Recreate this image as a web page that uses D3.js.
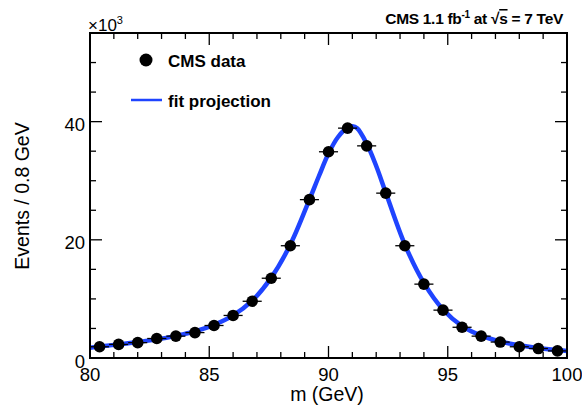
<!DOCTYPE html>
<html>
<head>
<meta charset="utf-8">
<script src="https://cdn.jsdelivr.net/npm/d3@7"></script>
<style>
  body { margin: 0; background: #fff; }
  svg { display: block; }
  text { font-family: "Liberation Sans", Arial, Helvetica, sans-serif; fill: #000; }
</style>
</head>
<body>
<svg id="chart" width="582" height="405"></svg>
<script>
// Z -> mumu invariant mass: binned data (0.8 GeV bins) and fit projection, in units of 10^3 events
const binCenters = [80.4, 81.2, 82.0, 82.8, 83.6, 84.4, 85.2, 86.0, 86.8, 87.6, 88.4, 89.2, 90.0,
                    90.8, 91.6, 92.4, 93.2, 94.0, 94.8, 95.6, 96.4, 97.2, 98.0, 98.8, 99.6];
const dataCounts = [1.9, 2.3, 2.6, 3.3, 3.7, 4.3, 5.5, 7.2, 9.6, 13.5, 19.0, 26.8, 34.9,
                    38.9, 35.9, 27.9, 19.0, 12.5, 8.1, 5.2, 3.7, 2.7, 1.9, 1.6, 1.2];
const binWidth = 0.8;

const fitMass = [80.0, 80.4, 81.2, 82.0, 82.8, 83.6, 84.4, 85.2, 86.0, 86.8, 87.6, 88.4, 89.2,
                 89.6, 90.0, 90.4, 90.8, 91.0, 91.2, 91.6, 92.0, 92.4, 93.2, 94.0, 94.8, 95.6,
                 96.4, 97.2, 98.0, 98.8, 99.6, 100.0];
const fitValues = [1.75, 1.95, 2.3, 2.7, 3.15, 3.75, 4.5, 5.6, 7.2, 9.7, 13.6, 19.2, 26.8,
                   30.8, 34.6, 37.4, 39.0, 39.2, 38.9, 36.3, 32.5, 28.0, 19.2, 12.7, 8.2, 5.4,
                   3.8, 2.8, 2.15, 1.7, 1.35, 1.2];

const xMajorTicks = [80, 85, 90, 95, 100];
const yMajorTicks = [0, 20, 40];

const svg = d3.select("#chart");
const frame = { left: 90, right: 567, top: 33, bottom: 358 };

const x = d3.scaleLinear().domain([80, 100]).range([frame.left, frame.right]);
const y = d3.scaleLinear().domain([0, 55]).range([frame.bottom, frame.top]);

const majorLen = 12, minorLen = 6;

// inward-pointing ticks on all four sides
const axisG = svg.append("g").attr("stroke", "#000").attr("stroke-width", 1.3);
d3.range(80, 100.001, 1).forEach(v => {
  const len = (v % 5 === 0) ? majorLen : minorLen;
  axisG.append("line").attr("x1", x(v)).attr("x2", x(v))
    .attr("y1", frame.bottom).attr("y2", frame.bottom - len);
  axisG.append("line").attr("x1", x(v)).attr("x2", x(v))
    .attr("y1", frame.top).attr("y2", frame.top + len);
});
d3.range(0, 55.001, 5).forEach(v => {
  const len = (v % 20 === 0) ? majorLen : minorLen;
  axisG.append("line").attr("y1", y(v)).attr("y2", y(v))
    .attr("x1", frame.left).attr("x2", frame.left + len);
  axisG.append("line").attr("y1", y(v)).attr("y2", y(v))
    .attr("x1", frame.right).attr("x2", frame.right - len);
});

// fit projection curve
const line = d3.line()
  .x((d, i) => x(fitMass[i]))
  .y(d => y(d))
  .curve(d3.curveCatmullRom.alpha(0.5));
svg.append("path")
  .attr("d", line(fitValues))
  .attr("fill", "none")
  .attr("stroke", "#1f44ff")
  .attr("stroke-width", 4.5);

// data points with bin-width error bars
const pts = svg.append("g");
binCenters.forEach((m, i) => {
  const cy = y(dataCounts[i]);
  pts.append("line")
    .attr("x1", x(m - binWidth / 2)).attr("x2", x(m + binWidth / 2))
    .attr("y1", cy).attr("y2", cy)
    .attr("stroke", "#000").attr("stroke-width", 1.3);
  pts.append("circle")
    .attr("cx", x(m)).attr("cy", cy).attr("r", 5.8)
    .attr("fill", "#000");
});

// frame
svg.append("rect")
  .attr("x", frame.left).attr("y", frame.top)
  .attr("width", frame.right - frame.left).attr("height", frame.bottom - frame.top)
  .attr("fill", "none").attr("stroke", "#000").attr("stroke-width", 2);

// tick labels
svg.append("g").selectAll("text").data(xMajorTicks).join("text")
  .attr("x", d => x(d)).attr("y", 381)
  .attr("text-anchor", "middle").attr("font-size", 18.5)
  .text(d => d);
svg.append("g").selectAll("text").data(yMajorTicks).join("text")
  .attr("x", 85).attr("y", d => y(d) + 9.5)
  .attr("text-anchor", "end").attr("font-size", 18.5)
  .text(d => d);

// exponent label
const expo = svg.append("text").attr("x", 88).attr("y", 31).attr("font-size", 17);
expo.append("tspan").text("×10");
expo.append("tspan").attr("dy", -7).attr("font-size", 11).text("3");

// axis titles
svg.append("text")
  .attr("x", 327).attr("y", 401)
  .attr("text-anchor", "middle").attr("font-size", 19.5)
  .text("m (GeV)");
svg.append("text")
  .attr("transform", `translate(29,196) rotate(-90)`)
  .attr("text-anchor", "middle").attr("font-size", 19.5)
  .text("Events / 0.8 GeV");

// legend
svg.append("circle").attr("cx", 146).attr("cy", 60).attr("r", 6.5).attr("fill", "#000");
svg.append("text").attr("x", 168).attr("y", 66.5)
  .attr("font-size", 17).attr("font-weight", "bold").text("CMS data");
svg.append("line").attr("x1", 131).attr("x2", 162).attr("y1", 100).attr("y2", 100)
  .attr("stroke", "#1f44ff").attr("stroke-width", 2.5);
svg.append("text").attr("x", 168).attr("y", 107)
  .attr("font-size", 17).attr("font-weight", "bold").text("fit projection");

// luminosity / energy label
const lumi = svg.append("text").attr("x", 563).attr("y", 24)
  .attr("text-anchor", "end").attr("font-size", 15.5).attr("font-weight", "bold")
  .attr("letter-spacing", -0.3);
lumi.append("tspan").text("CMS 1.1 fb");
lumi.append("tspan").attr("dy", -6).attr("font-size", 10).text("-1");
lumi.append("tspan").attr("dy", 6).text(" at ");
lumi.append("tspan").text("√");
lumi.append("tspan").style("text-decoration", "overline").text("s");
lumi.append("tspan").text(" = 7 TeV");
</script>
</body>
</html>
